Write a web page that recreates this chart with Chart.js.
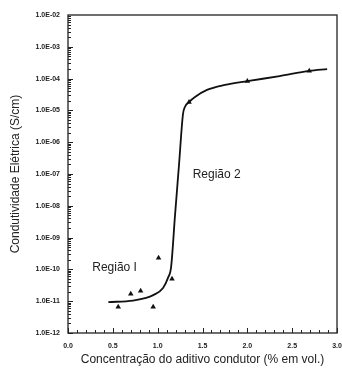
<!DOCTYPE html>
<html>
<head>
<meta charset="utf-8">
<script src="https://cdn.jsdelivr.net/npm/chart.js@4"></script>
<style>
  html, body { margin: 0; padding: 0; background: #fff; }
  #wrap { width: 342px; height: 369px; }
</style>
</head>
<body>
<div id="wrap"><canvas id="chart" width="342" height="369"></canvas></div>
<script>
// fitted curve
const curveX = [0.45, 0.725, 0.86, 0.95, 1.06, 1.115, 1.15, 1.193, 1.238, 1.282, 1.305, 1.35, 1.416, 1.55, 1.75, 2.0, 2.36, 2.69, 2.89];
const curveY = [9.3e-12, 1.05e-11, 1.25e-11, 1.55e-11, 2.6e-11, 5.4e-11, 1.2e-10, 4.8e-9, 1.95e-7, 7.5e-6, 1.3e-5, 1.82e-5, 2.63e-5, 4.4e-5, 6.3e-5, 8.3e-5, 1.2e-4, 1.74e-4, 2e-4];
// measured points (triangles)
const pointX = [0.56, 0.70, 0.81, 0.95, 1.01, 1.16, 1.35, 2.0, 2.69];
const pointY = [6.6e-12, 1.7e-11, 2.1e-11, 6.6e-12, 2.3e-10, 5e-11, 1.82e-5, 8.3e-5, 1.74e-4];
const yTicks = [1e-12, 1e-11, 1e-10, 1e-9, 1e-8, 1e-7, 1e-6, 1e-5, 1e-4, 1e-3, 1e-2];
const xTicks = [0, 0.5, 1.0, 1.5, 2.0, 2.5, 3.0];
const regionLabels = [
  { text: 'Região I', x: 0.27, y: 1.1e-10 },
  { text: 'Região 2', x: 1.39, y: 9.5e-8 },
];

const ink = '#222';

const fmtExp = (v) => {
  const e = Math.round(Math.log10(v));
  const s = Math.abs(e) < 10 ? '0' + Math.abs(e) : '' + Math.abs(e);
  return '1.0E' + (e < 0 ? '-' : '+') + s;
};

const framePlugin = {
  id: 'frame',
  afterDatasetsDraw(chart) {
    const { ctx, chartArea: a, scales } = chart;
    const xs = scales.x, ys = scales.y;
    ctx.save();
    ctx.strokeStyle = ink;
    ctx.lineWidth = 1.3;
    ctx.strokeRect(a.left, a.top, a.right - a.left, a.bottom - a.top);
    ctx.lineWidth = 1;
    ctx.beginPath();
    // y ticks, inward, with log minors
    for (let d = -12; d < -2; d++) {
      for (let m = 1; m <= 9; m++) {
        const py = Math.round(ys.getPixelForValue(m * Math.pow(10, d))) + 0.5;
        const len = m === 1 ? 5 : 3;
        ctx.moveTo(a.left, py);
        ctx.lineTo(a.left + len, py);
      }
    }
    // x ticks, inward, every 0.1
    for (let i = 0; i <= 30; i++) {
      const px = Math.round(xs.getPixelForValue(i / 10)) + 0.5;
      const len = i % 5 === 0 ? 5 : 3;
      ctx.moveTo(px, a.bottom);
      ctx.lineTo(px, a.bottom - len);
    }
    ctx.stroke();
    // region labels
    ctx.fillStyle = ink;
    ctx.font = '12px "Liberation Sans", Arial, sans-serif';
    ctx.textBaseline = 'middle';
    ctx.textAlign = 'left';
    regionLabels.forEach((r) => {
      ctx.fillText(r.text, xs.getPixelForValue(r.x), ys.getPixelForValue(r.y));
    });
    ctx.restore();
  },
};

new Chart(document.getElementById('chart'), {
  data: {
    datasets: [
      {
        type: 'line',
        data: curveX.map((x, i) => ({ x, y: curveY[i] })),
        borderColor: '#111',
        borderWidth: 1.8,
        pointRadius: 0,
        cubicInterpolationMode: 'monotone',
        fill: false,
      },
      {
        type: 'scatter',
        data: pointX.map((x, i) => ({ x, y: pointY[i] })),
        pointStyle: 'triangle',
        pointRadius: 3.2,
        backgroundColor: '#111',
        borderColor: '#111',
        borderWidth: 0,
      },
    ],
  },
  options: {
    responsive: false,
    animation: false,
    events: [],
    layout: { padding: { top: 15, right: 0, left: 0, bottom: 0 } },
    plugins: { legend: { display: false }, tooltip: { enabled: false } },
    scales: {
      x: {
        type: 'linear',
        min: 0,
        max: 3,
        grid: { display: false, drawTicks: false },
        border: { display: false },
        afterBuildTicks: (scale) => { scale.ticks = xTicks.map((v) => ({ value: v })); },
        afterFit: (scale) => {
          scale.height = 36;
          scale.paddingLeft = 0;
          scale.paddingRight = 5;
        },
        ticks: {
          padding: 9,
          maxRotation: 0,
          color: ink,
          font: { family: '"Liberation Sans", Arial, sans-serif', size: 7, weight: 'bold' },
          callback: (v) => Number(v).toFixed(1),
        },
        title: {
          display: true,
          text: 'Concentração do aditivo condutor (% em vol.)',
          color: ink,
          font: { family: '"Liberation Sans", Arial, sans-serif', size: 12 },
          padding: { top: 0, bottom: 2 },
        },
      },
      y: {
        type: 'logarithmic',
        min: 1e-12,
        max: 1e-2,
        grid: { display: false, drawTicks: false },
        border: { display: false },
        afterBuildTicks: (scale) => { scale.ticks = yTicks.map((v) => ({ value: v, major: true })); },
        afterFit: (scale) => {
          scale.width = 68;
          scale.paddingTop = 0;
          scale.paddingBottom = 0;
        },
        ticks: {
          padding: 8,
          autoSkip: false,
          color: ink,
          font: { family: '"Liberation Sans", Arial, sans-serif', size: 7, weight: 'bold' },
          callback: (v) => fmtExp(v),
        },
        title: {
          display: true,
          text: 'Condutividade Elétrica (S/cm)',
          color: ink,
          font: { family: '"Liberation Sans", Arial, sans-serif', size: 12 },
          padding: { top: 8, bottom: 0 },
        },
      },
    },
  },
  plugins: [framePlugin],
});
</script>
</body>
</html>
